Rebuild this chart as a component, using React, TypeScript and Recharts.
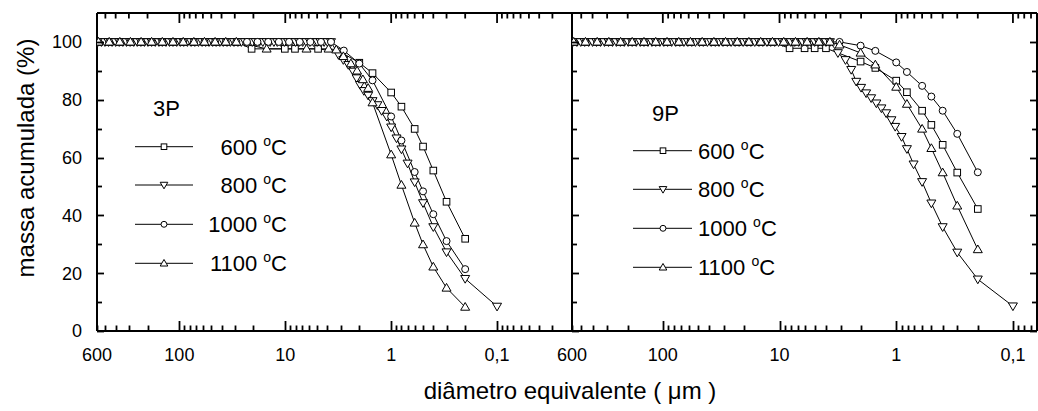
import React from 'react';
import { LineChart, Line, XAxis, YAxis, ReferenceLine } from 'recharts';

// ---------- tick values ----------
const xTicksLeft = [600, 500, 400, 300, 200, 100, 90, 80, 70, 60, 50, 40, 30, 20, 10, 9, 8, 7, 6, 5, 4, 3, 2, 1, 0.9, 0.8, 0.7, 0.6, 0.5, 0.4, 0.3, 0.2, 0.1, 0.09, 0.08, 0.07, 0.06, 0.05, 0.04, 0.03];
const xTicksRight = [600, 500, 400, 300, 200, 100, 90, 80, 70, 60, 50, 40, 30, 20, 10, 9, 8, 7, 6, 5, 4, 3, 2, 1, 0.9, 0.8, 0.7, 0.6, 0.5, 0.4, 0.3, 0.2, 0.1, 0.09, 0.08, 0.07];
const xMajor = [100, 10, 1, 0.1];
const xLabels: Record<string, string> = { '600': '600', '100': '100', '10': '10', '1': '1', '0.1': '0,1' };
const yTicks = [0, 10, 20, 30, 40, 50, 60, 70, 80, 90, 100];
const yLabels = [0, 20, 40, 60, 80, 100];
const Y_MAX = 110;

// ---------- data: diameters (µm) and cumulative mass (%) ----------
// dense plateau sampling (800 °C series)
const denseD = [590, 545, 505, 467, 432, 400, 370, 342, 316, 292, 270, 250, 231, 214, 198, 183, 169, 156, 145, 134, 124, 115, 106, 98, 91, 84, 77.5, 71.5, 66, 61, 56.5, 52.5, 48.5, 45, 41.5, 38.5, 35.5, 33, 30.5, 28, 26, 24, 22.2, 20.5, 19, 17.6, 16.3, 15, 13.9, 12.8, 11.9, 11, 10.2, 9.4, 8.7, 8.0, 7.4, 6.85, 6.35, 5.85, 5.4, 5.0, 4.65, 4.3, 4.0, 3.7];
const denseV = [100, 100, 100, 100, 100, 100, 100, 100, 100, 100, 100, 100, 100, 100, 100, 100, 100, 100, 100, 100, 100, 100, 100, 100, 100, 100, 100, 100, 100, 100, 100, 100, 100, 100, 100, 100, 100, 100, 100, 100, 100, 100, 100, 100, 100, 100, 100, 100, 100, 100, 100, 100, 100, 100, 100, 100, 100, 100, 100, 100, 100, 100, 100, 100, 100, 100];
// sparser plateau sampling (other series)
const sparseD = [580, 460, 365, 290, 230, 183, 145, 115, 92, 73, 58, 46, 36.5, 29];
const sparseV = [100, 100, 100, 100, 100, 100, 100, 100, 100, 100, 100, 100, 100, 100];
const sparseD2 = [23, 18.3, 14.5, 11.5, 9.2, 7.3, 5.8, 4.6, 3.7];
const sparseV2 = [100, 100, 100, 100, 100, 100, 100, 100, 100];

// 3P
const p3_600_d = [20.8, 10.1, 8.1, 4.9, 3.0, 2.0, 1.5, 1.0, 0.8, 0.6, 0.5, 0.4, 0.3, 0.2];
const p3_600_v = [97.6, 97.6, 97.6, 97.6, 96.5, 92.8, 89.2, 82.5, 77.6, 69.9, 63.8, 55.5, 44.7, 31.9];
const p3_800_d = [3.15, 2.83, 2.54, 2.28, 2.12, 1.97, 1.81, 1.65, 1.5, 1.35, 1.23, 1.1, 1.0, 0.89, 0.8, 0.7, 0.6, 0.5, 0.4, 0.3, 0.2, 0.1];
const p3_800_v = [95.6, 93.8, 92.1, 89.8, 87.5, 85.2, 83.1, 81.5, 79.6, 78.2, 76.2, 74.2, 70.5, 66.7, 62.9, 58.0, 51.5, 44.3, 36.0, 27.3, 18.1, 8.5];
const p3_1000_d = [2.8, 2.0, 1.5, 1.0, 0.8, 0.6, 0.5, 0.4, 0.3, 0.2];
const p3_1000_v = [97.0, 92.5, 86.7, 74.2, 65.9, 55.0, 48.3, 40.4, 31.1, 21.4];
const p3_1100_d = [15, 6.3, 3.9, 3.3, 2.83, 2.4, 2.1, 1.85, 1.65, 1.5, 1.0, 0.8, 0.6, 0.5, 0.4, 0.3, 0.2];
const p3_1100_v = [97.6, 97.6, 97.6, 97.3, 95.0, 92.5, 90.0, 87.0, 84.0, 79.0, 61.0, 50.5, 37.4, 29.9, 22.2, 14.9, 8.3];

// 9P
const p9_600_d = [8.2, 6.1, 5.0, 4.0, 2.02, 1.51, 1.0, 0.81, 0.6, 0.5, 0.4, 0.3, 0.2];
const p9_600_v = [97.8, 97.8, 97.8, 97.8, 93.2, 91.0, 86.6, 82.6, 76.2, 71.3, 64.4, 54.8, 42.2];
const p9_800_d = [3.16, 2.72, 2.43, 2.2, 2.0, 1.81, 1.64, 1.48, 1.34, 1.22, 1.1, 1.02, 0.9, 0.81, 0.71, 0.6, 0.5, 0.4, 0.3, 0.2, 0.1];
const p9_800_v = [96.2, 93.8, 90.4, 86.3, 84.2, 82.3, 80.6, 78.8, 77.1, 75.4, 73.0, 70.7, 67.2, 63.0, 57.7, 51.6, 44.2, 36.0, 27.2, 17.9, 8.6];
const p9_1000_d = [3.06, 2.02, 1.51, 1.0, 0.81, 0.6, 0.5, 0.4, 0.3, 0.2];
const p9_1000_v = [100, 98.7, 96.9, 92.9, 89.6, 84.8, 81.1, 76.2, 68.2, 54.9];
const p9_1100_d = [3.06, 2.02, 1.51, 1.0, 0.81, 0.6, 0.5, 0.4, 0.3, 0.2];
const p9_1100_v = [99.0, 96.2, 92.1, 84.4, 78.5, 69.9, 63.2, 54.8, 43.3, 28.2];

type Pt = { d: number; v: number };
const zip = (ds: number[], vs: number[]): Pt[] => ds.map((d, i) => ({ d, v: vs[i] }));

const s3 = {
  c600: [...zip(sparseD, sparseV), ...zip(p3_600_d, p3_600_v)],
  c800: [...zip(denseD, denseV), ...zip(p3_800_d, p3_800_v)],
  c1000: [...zip(sparseD, sparseV), ...zip(sparseD2, sparseV2), ...zip(p3_1000_d, p3_1000_v)],
  c1100: [...zip(sparseD, sparseV), ...zip(p3_1100_d, p3_1100_v)],
};
const s9 = {
  c600: [...zip(sparseD, sparseV), ...zip(sparseD2.slice(0, 4), sparseV2.slice(0, 4)), ...zip(p9_600_d, p9_600_v)],
  c800: [...zip(denseD, denseV), ...zip(p9_800_d, p9_800_v)],
  c1000: [...zip(sparseD, sparseV), ...zip(sparseD2, sparseV2), ...zip(p9_1000_d, p9_1000_v)],
  c1100: [...zip(sparseD, sparseV), ...zip(sparseD2, sparseV2), ...zip(p9_1100_d, p9_1100_v)],
};

const legendLabels = ['600', '800', '1000', '1100'];

// ---------- layout / style ----------
const FONT = '"Liberation Sans", Arial, Helvetica, sans-serif';
const K = '#000';
const CHART_H = 411;
const MARGIN_TOP = 13;
const X_AXIS_H = 80;
const PLOT_H = CHART_H - MARGIN_TOP - X_AXIS_H;
const PX_PER_UNIT = PLOT_H / Y_MAX;
const TICK_W = 1.8;

function shape(kind: string, cx: number, cy: number, key?: any, s = 1) {
  if (kind === 'sq')
    return <rect key={key} x={cx - 3.3 * s} y={cy - 3.3 * s} width={6.6 * s} height={6.6 * s} fill="#fff" stroke={K} strokeWidth={1} />;
  if (kind === 'ci') return <circle key={key} cx={cx} cy={cy} r={3.5 * s} fill="#fff" stroke={K} strokeWidth={1} />;
  if (kind === 'dn')
    return (
      <polygon key={key} points={`${cx - 4.5 * s},${cy - 3.2 * s} ${cx + 4.5 * s},${cy - 3.2 * s} ${cx},${cy + 4.5 * s}`} fill="#fff" stroke={K} strokeWidth={1} />
    );
  return <polygon key={key} points={`${cx - 4.5 * s},${cy + 3.2 * s} ${cx + 4.5 * s},${cy + 3.2 * s} ${cx},${cy - 4.5 * s}`} fill="#fff" stroke={K} strokeWidth={1} />;
}
const dotOf = (kind: string) => (p: any) => shape(kind, p.cx, p.cy, `${kind}-${p.index}`);
const kinds = ['sq', 'dn', 'ci', 'up'];

// ---------- ticks ----------
const px = (v: number) => Math.round(v) + 0.5;
const isMajorX = (v: number) => xMajor.some((m) => Math.abs(m - v) < 1e-9);
const tickLen = (v: number) => (isMajorX(v) ? 10 : 5.5);
const BottomTick = (p: any) => {
  const v = p.payload.value;
  const lbl = xLabels[String(v)];
  const x = px(p.x);
  return (
    <g>
      <line x1={x} x2={x} y1={p.y} y2={p.y - tickLen(v)} stroke={K} strokeWidth={TICK_W} />
      {lbl && (
        <text x={p.x} y={p.y + 30} textAnchor="middle" fontSize={18} fontFamily={FONT} fill={K}>
          {lbl}
        </text>
      )}
    </g>
  );
};
const LeftTick = (p: any) => {
  const v = p.payload.value;
  const maj = v % 20 === 0;
  const y = px(p.y);
  return (
    <g>
      <line x1={p.x} x2={p.x + (maj ? 7 : 5)} y1={y} y2={y} stroke={K} strokeWidth={TICK_W} />
      {yLabels.includes(v) && (
        <text x={p.x - 15} y={p.y} dy="0.36em" textAnchor="end" fontSize={18} fontFamily={FONT} fill={K}>
          {v}
        </text>
      )}
    </g>
  );
};
const LeftTickNoLabel = (p: any) => {
  const maj = p.payload.value % 20 === 0;
  const y = px(p.y);
  return <line x1={p.x} x2={p.x + (maj ? 7 : 5)} y1={y} y2={y} stroke={K} strokeWidth={TICK_W} />;
};
const RightTick = (p: any) => {
  const maj = p.payload.value % 20 === 0;
  const y = px(p.y);
  return <line x1={p.x} x2={p.x - (maj ? 7 : 5)} y1={y} y2={y} stroke={K} strokeWidth={TICK_W} />;
};

const axisLine = { stroke: K, strokeWidth: 2 };

function Panel(props: { series: any; domainMin: number; ticks: number[]; width: number; leftW: number; rightMargin: number; labelLeft: boolean; rightTicks: boolean }) {
  const { series, domainMin, ticks, width, leftW, rightMargin, labelLeft, rightTicks } = props;
  const list = [series.c600, series.c800, series.c1000, series.c1100];
  return (
    <LineChart width={width} height={CHART_H} margin={{ top: MARGIN_TOP - 1, right: rightMargin, bottom: 0, left: 0 }}>
      <XAxis xAxisId="b" dataKey="d" type="number" scale="log" domain={[domainMin, 600]} reversed allowDataOverflow ticks={ticks} interval={0} tickSize={0} tickMargin={0} height={X_AXIS_H} tick={BottomTick} tickLine={false} axisLine={axisLine} />
      <XAxis xAxisId="t" orientation="top" dataKey="d" type="number" scale="log" domain={[domainMin, 600]} reversed allowDataOverflow ticks={ticks} height={1} tick={false} tickLine={false} axisLine={axisLine} />
      <YAxis yAxisId="l" type="number" domain={[0, Y_MAX]} allowDataOverflow ticks={yTicks} interval={0} tickSize={0} tickMargin={0} width={leftW} tick={labelLeft ? LeftTick : LeftTickNoLabel} tickLine={false} axisLine={axisLine} />
      <YAxis yAxisId="r" orientation="right" type="number" domain={[0, Y_MAX]} allowDataOverflow ticks={yTicks} interval={0} tickSize={0} tickMargin={0} width={1} tick={rightTicks ? RightTick : false} tickLine={false} axisLine={axisLine} />
      {ticks.map((v) => (
        <ReferenceLine
          key={'tt' + v}
          xAxisId="b"
          yAxisId="l"
          ifOverflow="visible"
          segment={[
            { x: v, y: Y_MAX },
            { x: v, y: Y_MAX - tickLen(v) / PX_PER_UNIT },
          ]}
          stroke={K}
          strokeWidth={TICK_W}
        />
      ))}
      {list.map((data: Pt[], i: number) => (
        <Line key={i} xAxisId="b" yAxisId="l" data={data} dataKey="v" type="linear" stroke={K} strokeWidth={1} dot={dotOf(kinds[i])} activeDot={false} isAnimationActive={false} />
      ))}
    </LineChart>
  );
}

function Deg({ x, y, num, anchor }: { x: number; y: number; num: string; anchor: 'start' | 'end' }) {
  return (
    <text x={x} y={y} textAnchor={anchor} fontSize={22} fontFamily={FONT} fill={K}>
      {num}{' '}
      <tspan dy={-9} fontSize={14}>o</tspan>
      <tspan dy={9}>C</tspan>
    </text>
  );
}

export default function App() {
  const rowsL = [146.7, 185, 224.3, 263.3];
  const rowsR = [150.7, 189.3, 228.3, 267.3];
  return (
    <div style={{ position: 'absolute', left: 0, top: 0, width: 1038, height: 411, background: '#fff', fontFamily: FONT }}>
      <div style={{ position: 'absolute', left: 0, top: 0 }}>
        <Panel series={s3} domainMin={0.0196} ticks={xTicksLeft} width={600} leftW={97} rightMargin={27} labelLeft={true} rightTicks={false} />
      </div>
      <div style={{ position: 'absolute', left: 540, top: 0 }}>
        <Panel series={s9} domainMin={0.0622} ticks={xTicksRight} width={498} leftW={32} rightMargin={0} labelLeft={false} rightTicks={true} />
      </div>
      <svg width={1038} height={411} style={{ position: 'absolute', left: 0, top: 0, pointerEvents: 'none' }}>
        <text x={26} y={158} transform="rotate(-90 26 158)" textAnchor="middle" dy="0.35em" fontSize={24} fontFamily={FONT} fill={K}>
          massa acumulada (%)
        </text>
        <text x={570} y={399} textAnchor="middle" fontSize={24} fontFamily={FONT} fill={K}>
          diâmetro equivalente ( μm )
        </text>
        <text x={153} y={116} fontSize={22} fontFamily={FONT} fill={K}>3P</text>
        {rowsL.map((y, i) => (
          <g key={'l' + i}>
            <line x1={135} x2={193} y1={y} y2={y} stroke={K} strokeWidth={1} />
            {shape(kinds[i], 164, y, undefined, 0.85)}
            <Deg x={287} y={y + 7.8} num={legendLabels[i]} anchor="end" />
          </g>
        ))}
        <text x={652} y={121} fontSize={22} fontFamily={FONT} fill={K}>9P</text>
        {rowsR.map((y, i) => (
          <g key={'r' + i}>
            <line x1={633} x2={692} y1={y} y2={y} stroke={K} strokeWidth={1} />
            {shape(kinds[i], 663, y, undefined, 0.85)}
            <Deg x={698} y={y + 7.8} num={legendLabels[i]} anchor="start" />
          </g>
        ))}
      </svg>
    </div>
  );
}
